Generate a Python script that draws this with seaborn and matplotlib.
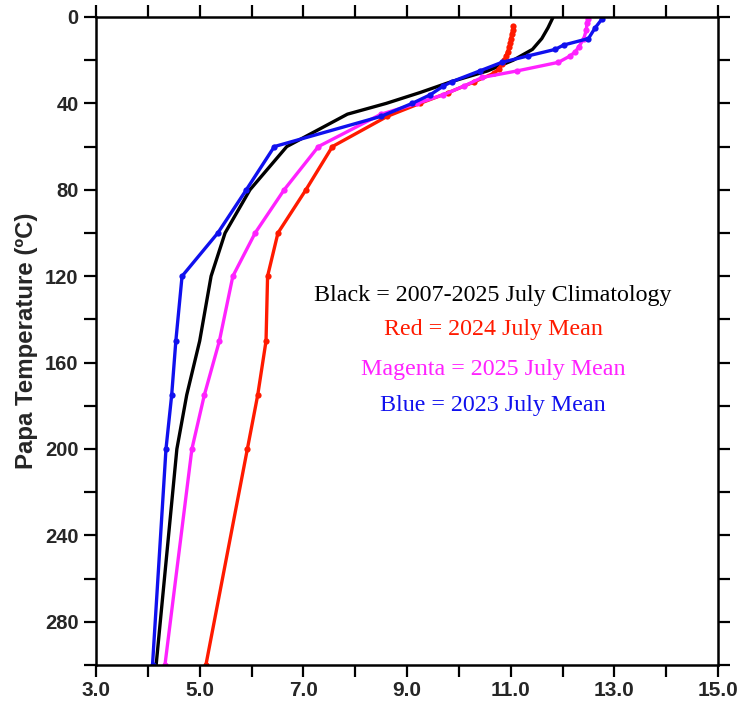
import matplotlib
matplotlib.use("Agg")
import matplotlib.pyplot as plt
import seaborn as sns
from matplotlib.ticker import MultipleLocator, FixedLocator, FormatStrFormatter

# Station Papa July temperature profiles (depth in m, temperature in degC)
clim_depth = [0, 5, 10, 15, 20, 25, 30, 35, 40, 45, 60, 80, 100, 120, 150, 175, 200, 300]
clim_temp = [11.82, 11.72, 11.60, 11.42, 11.05, 10.55, 9.85, 9.25, 8.60, 7.85, 6.68,
             5.97, 5.49, 5.22, 5.00, 4.75, 4.56, 4.16]

red_depth = [4, 6, 8, 10, 12, 14, 16, 18, 20, 22, 24, 26, 30, 35, 40, 46, 60, 80, 100,
             120, 150, 175, 200, 300]
red_temp = [11.05, 11.04, 11.02, 11.00, 10.99, 10.97, 10.94, 10.91, 10.88, 10.83, 10.77,
            10.68, 10.30, 9.80, 9.25, 8.62, 7.56, 7.05, 6.51, 6.31, 6.28, 6.12, 5.92, 5.12]

mag_depth = [1, 3, 6, 10, 14, 16, 18, 21, 25, 28, 32, 36, 40, 45, 60, 80, 100, 120, 150,
             175, 200, 300]
mag_temp = [12.49, 12.47, 12.46, 12.41, 12.31, 12.25, 12.15, 11.92, 11.12, 10.45, 10.10,
            9.70, 9.20, 8.50, 7.29, 6.63, 6.07, 5.64, 5.38, 5.09, 4.85, 4.33]

blue_depth = [1, 5, 10, 13, 15, 18, 21, 25, 30, 32, 36, 40, 46, 60, 80, 100, 120, 150,
              175, 200, 300]
blue_temp = [12.76, 12.63, 12.50, 12.02, 11.86, 11.34, 10.83, 10.40, 9.86, 9.70, 9.45,
             9.10, 8.50, 6.44, 5.90, 5.35, 4.66, 4.54, 4.46, 4.35, 4.09]

legend_lines = ["Black = 2007-2025 July Climatology", "Red = 2024 July Mean",
                "Magenta = 2025 July Mean", "Blue = 2023 July Mean"]

x_labeled = [3.0, 5.0, 7.0, 9.0, 11.0, 13.0, 15.0]
y_labeled = [0, 40, 80, 120, 160, 200, 240, 280]
x_range = (3.0, 15.0)
y_range = (300, 0)

sns.set_theme(style="ticks")
plt.rcParams["font.family"] = ["Liberation Sans", "DejaVu Sans"]

fig = plt.figure(figsize=(7.46, 7.04), dpi=100)
ax = fig.add_axes([0.1287, 0.0554, 0.8338, 0.9205])

RED = "#ff1a00"
MAG = "#ff22ff"
BLUE = "#1010ee"

sns.lineplot(x=clim_temp, y=clim_depth, sort=False, estimator=None, color="black",
             linewidth=2.4, ax=ax)
for t, d, c in [(red_temp, red_depth, RED), (mag_temp, mag_depth, MAG),
                (blue_temp, blue_depth, BLUE)]:
    sns.lineplot(x=t, y=d, sort=False, estimator=None, color=c, linewidth=2.4,
                 marker="o", markersize=4.5, markeredgewidth=0, ax=ax)

ax.set_xlim(*x_range)
ax.set_ylim(*y_range)

ax.xaxis.set_major_locator(FixedLocator(x_labeled))
ax.xaxis.set_minor_locator(MultipleLocator(1.0))
ax.xaxis.set_major_formatter(FormatStrFormatter("%.1f"))
ax.yaxis.set_major_locator(FixedLocator(y_labeled))
ax.yaxis.set_minor_locator(MultipleLocator(20))

ax.tick_params(axis="both", which="both", direction="out", length=8.5, width=1.6,
               top=True, right=True, labeltop=False, labelright=False, color="black")
ax.tick_params(axis="x", which="major", labelsize=15, pad=3)
ax.tick_params(axis="y", which="major", labelsize=14.5, pad=4)
for lab in ax.get_xticklabels() + ax.get_yticklabels():
    lab.set_fontweight("bold")

for sp in ax.spines.values():
    sp.set_linewidth(1.8)
    sp.set_color("black")

ax.set_ylabel("Papa Temperature (ºC)", fontsize=17.3, fontweight="bold", labelpad=5)
ax.set_xlabel("")

text_colors = ["black", RED, MAG, BLUE]
text_y = [129, 144.5, 163, 180]
for s, c, yy in zip(legend_lines, text_colors, text_y):
    ax.text(10.66, yy, s, color=c, ha="center", va="center", fontsize=17.3,
            family=["Liberation Serif", "DejaVu Serif"])

fig.savefig("out.png", dpi=100)
